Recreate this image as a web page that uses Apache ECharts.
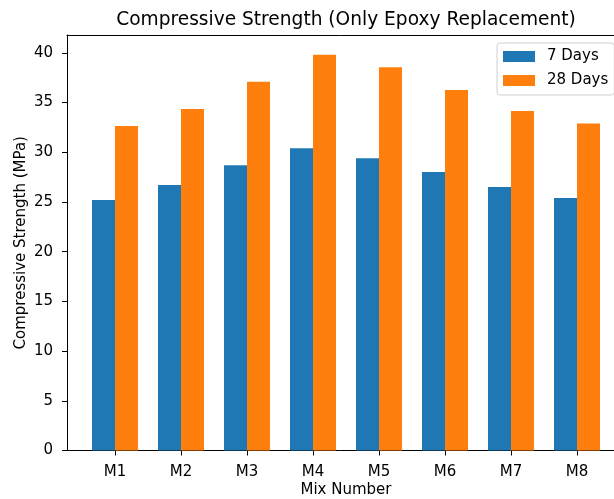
<!DOCTYPE html>
<html><head><meta charset="utf-8">
<script src="https://cdn.jsdelivr.net/npm/echarts@6/dist/echarts.min.js"></script>
<style>html,body{margin:0;padding:0;background:#fff}#c{width:614px;height:499px}</style>
</head><body><div id="c"></div>
<script>
const categories = ['M1','M2','M3','M4','M5','M6','M7','M8'];
const days7 = [25.2, 26.7, 28.7, 30.4, 29.4, 28.0, 26.5, 25.4];
const days28 = [32.65, 34.35, 37.1, 39.8, 38.55, 36.25, 34.15, 32.9];
const yTicks = [0,5,10,15,20,25,30,35,40];
const seriesNames = ['7 Days','28 Days'];

const font = 'DejaVu Sans';
const fs = 15;
const yMax = 41.79;
const chart = echarts.init(document.getElementById('c'), null, {renderer:'canvas'});
chart.setOption({
  animation:false,
  backgroundColor:'#fff',
  textStyle:{fontFamily:font},
  title:{text:'Compressive Strength (Only Epoxy Replacement)', left:341, top:6, textAlign:'center',
    textStyle:{fontFamily:font,fontSize:18.6,fontWeight:'normal',color:'#000'}},
  legend:{data:seriesNames, left:497, top:43, orient:'vertical', itemWidth:32, itemHeight:11, itemGap:9,
    padding:[6,6,7,6], borderColor:'#d0d0d0', borderWidth:1, borderRadius:3, backgroundColor:'rgba(255,255,255,0.8)',
    textStyle:{fontFamily:font,fontSize:fs,color:'#000', lineHeight:15, padding:[0,0,0,7]}, icon:'rect'},
  grid:[
    {left:67, width:558, top:35, bottom:48.5, show:false, outerBoundsMode:'none', containLabel:false},
    {left:82, right:4, top:35, bottom:48.5, outerBoundsMode:'none', containLabel:false}
  ],
  xAxis:[
    {type:'value', gridIndex:0, min:0, max:1, position:'bottom',
      axisLine:{show:true,onZero:false,lineStyle:{color:'#000'}}, axisTick:{show:false}, axisLabel:{show:false}, splitLine:{show:false}},
    {type:'value', gridIndex:0, min:0, max:1, position:'top',
      axisLine:{show:true,onZero:false,lineStyle:{color:'#000'}}, axisTick:{show:false}, axisLabel:{show:false}, splitLine:{show:false}},
    {type:'category', gridIndex:1, data:categories,
      axisLine:{show:false}, axisTick:{show:true, alignWithLabel:true, length:5, lineStyle:{color:'#000'}},
      axisLabel:{fontFamily:font,fontSize:fs,color:'#000',margin:14},
      name:'Mix Number', nameLocation:'middle', nameGap:32.5, nameMoveOverlap:false,
      nameTextStyle:{fontFamily:font,fontSize:fs,color:'#000'}}
  ],
  yAxis:[
    {type:'value', gridIndex:0, min:0, max:yMax, interval:5,
      axisLine:{show:true,lineStyle:{color:'#000'}}, axisTick:{show:true,length:5,lineStyle:{color:'#000'}},
      splitLine:{show:false},
      axisLabel:{fontFamily:font,fontSize:fs,color:'#000',margin:14, showMaxLabel:false,
        formatter:v=>yTicks.includes(v)?String(v):''},
      name:'Compressive Strength (MPa)', nameLocation:'middle', nameGap:38.5, nameRotate:90, nameMoveOverlap:false,
      nameTextStyle:{fontFamily:font,fontSize:fs,color:'#000'}},
    {type:'value', gridIndex:1, min:0, max:yMax, show:false}
  ],
  series:[
    {name:seriesNames[0], type:'bar', xAxisIndex:2, yAxisIndex:1, data:days7, barWidth:23, barGap:'0%',
      itemStyle:{color:'#1f77b4'}},
    {name:seriesNames[1], type:'bar', xAxisIndex:2, yAxisIndex:1, data:days28, barWidth:23, barGap:'0%',
      itemStyle:{color:'#ff7f0e'}}
  ]
});
</script></body></html>
